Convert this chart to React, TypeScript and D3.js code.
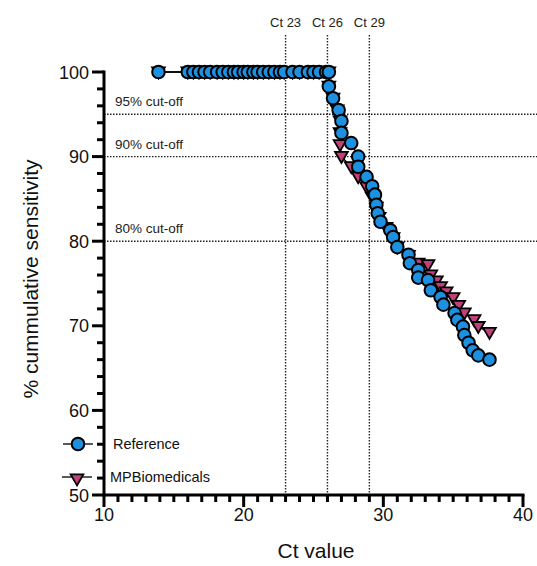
import React from "react";
import * as d3 from "d3";

const refCt = [13.9, 16.0, 16.4, 16.8, 17.2, 17.6, 18.1, 18.5, 18.9, 19.3, 19.6, 20.0, 20.3, 20.7, 21.0, 21.4, 21.8, 22.2, 22.6, 22.9, 23.5, 24.0, 24.6, 25.0, 25.4, 25.9, 26.1,
  26.1, 26.4, 26.8, 27.0, 27.0, 27.7, 28.2, 28.2, 28.8, 29.2, 29.4, 29.5, 29.6, 29.8, 30.5, 30.7, 31.0, 31.8, 31.9, 32.5, 32.5, 33.2, 33.4, 34.1, 34.3, 35.1, 35.3, 35.7, 35.8, 36.1, 36.4, 36.8, 37.6];
const refSens = [100, 100, 100, 100, 100, 100, 100, 100, 100, 100, 100, 100, 100, 100, 100, 100, 100, 100, 100, 100, 100, 100, 100, 100, 100, 100, 100,
  98.3, 96.9, 95.5, 94.2, 92.8, 91.6, 90.0, 88.8, 87.6, 86.5, 85.5, 84.3, 83.3, 82.3, 81.3, 80.5, 79.3, 78.4, 77.4, 76.6, 75.7, 75.4, 74.2, 73.4, 72.5, 71.5, 70.7, 69.9, 68.9, 68.0, 67.1, 66.5, 66.0];

const mpCt = [13.9, 16.0, 16.4, 16.8, 17.2, 17.6, 18.1, 18.5, 18.9, 19.3, 19.6, 20.0, 20.3, 20.7, 21.0, 21.4, 21.8, 22.2, 22.6, 22.9, 23.5, 24.0, 24.6, 25.0, 25.4, 25.9, 26.1,
  26.1, 26.4, 26.7, 26.9, 26.9, 26.9, 27.0, 27.7, 28.2, 28.8, 29.2, 29.5, 29.7, 30.2, 30.7, 31.0, 31.8, 32.5, 33.2, 33.4, 33.8, 34.1, 34.5, 35.0, 35.4, 35.8, 36.5, 36.8, 37.6];
const mpSens = [100, 100, 100, 100, 100, 100, 100, 100, 100, 100, 100, 100, 100, 100, 100, 100, 100, 100, 100, 100, 100, 100, 100, 100, 100, 100, 100,
  98.3, 96.9, 95.5, 94.2, 92.8, 91.4, 90.0, 88.8, 87.6, 86.4, 85.2, 84.0, 82.8, 81.6, 80.4, 79.3, 78.3, 77.4, 77.2, 76.0, 75.3, 74.6, 74.0, 73.3, 72.4, 71.5, 70.7, 69.9, 69.2];

const cutoffs = [95, 90, 80];
const cutoffLabels = ["95% cut-off", "90% cut-off", "80% cut-off"];
const ctLines = [23, 26, 29];
const ctLabels = ["Ct 23", "Ct 26", "Ct 29"];
const xTicks = [10, 20, 30, 40];
const yTicks = [50, 60, 70, 80, 90, 100];

export default function App() {
  const W = 537, H = 566;
  const x = d3.scaleLinear().domain([10, 40]).range([104, 523]);
  const y = d3.scaleLinear().domain([50, 100]).range([495, 72]);
  const font = "Liberation Sans, Arial, sans-serif";
  const ref = refCt.map((c, i) => [c, refSens[i]] as [number, number]);
  const mp = mpCt.map((c, i) => [c, mpSens[i]] as [number, number]);
  const line = d3.line<[number, number]>().x(d => x(d[0])).y(d => y(d[1]));
  const tri = d3.symbol().type(d3.symbolTriangle).size(70)() as string;
  const xMinor = d3.range(10, 41, 1);
  const yMinor = d3.range(50, 101, 2);
  const blue = "#1e90e0";
  const pink = "#c0407a";
  return (
    <svg width={W} height={H} style={{ position: "absolute", left: 0, top: 0, background: "#fff" }}>
      {cutoffs.map((c, i) => (
        <g key={"c" + i}>
          <line x1={x(10)} x2={W} y1={y(c)} y2={y(c)} stroke="#222" strokeWidth={1.4} strokeDasharray="1.5,1.5" />
          <text x={115} y={y(c) - 8} fontFamily={font} fontSize={13.5} fill="#222">{cutoffLabels[i]}</text>
        </g>
      ))}
      {ctLines.map((c, i) => (
        <g key={"v" + i}>
          <line x1={x(c)} x2={x(c)} y1={35} y2={y(50)} stroke="#222" strokeWidth={1.4} strokeDasharray="1.5,1.5" />
          <text x={x(c)} y={27} textAnchor="middle" fontFamily={font} fontSize={13} fill="#222">{ctLabels[i]}</text>
        </g>
      ))}
      <line x1={x(10)} x2={x(10)} y1={y(100) - 1.5} y2={y(50) + 1.5} stroke="#000" strokeWidth={3} />
      <line x1={x(10) - 1.5} x2={x(40) + 1.5} y1={y(50)} y2={y(50)} stroke="#000" strokeWidth={3} />
      {yMinor.map(v => (
        <line key={"ym" + v} x1={x(10) - (v % 10 === 0 ? 12 : 7)} x2={x(10)} y1={y(v)} y2={y(v)} stroke="#000" strokeWidth={3} />
      ))}
      {xMinor.map(v => (
        <line key={"xm" + v} x1={x(v)} x2={x(v)} y1={y(50)} y2={y(50) + (v % 10 === 0 ? 12 : 7)} stroke="#000" strokeWidth={3} />
      ))}
      {yTicks.map(v => (
        <text key={"yt" + v} x={x(10) - 15} y={y(v) + 6.5} textAnchor="end" fontFamily={font} fontSize={18} fill="#111">{v}</text>
      ))}
      {xTicks.map(v => (
        <text key={"xt" + v} x={x(v)} y={y(50) + 26} textAnchor="middle" fontFamily={font} fontSize={18} fill="#111">{v}</text>
      ))}
      <text x={316} y={558} textAnchor="middle" fontFamily={font} fontSize={21} fill="#111">Ct value</text>
      <text transform={`translate(38,279) rotate(-90)`} textAnchor="middle" fontFamily={font} fontSize={21} fill="#111">% cummulative sensitivity</text>
      <path d={line(mp) || ""} fill="none" stroke="#000" strokeWidth={1.3} />
      {mp.map((d, i) => (
        <path key={"m" + i} d={tri} transform={`translate(${x(d[0])},${y(d[1]) - 1}) rotate(180)`} fill={pink} stroke="#000" strokeWidth={1.8} />
      ))}
      <path d={line(ref) || ""} fill="none" stroke="#000" strokeWidth={1.3} />
      {ref.map((d, i) => (
        <circle key={"r" + i} cx={x(d[0])} cy={y(d[1])} r={6.3} fill={blue} stroke="#000" strokeWidth={2} />
      ))}
      <line x1={63} x2={93} y1={444} y2={444} stroke="#000" strokeWidth={1.3} />
      <circle cx={78} cy={444} r={6.3} fill={blue} stroke="#000" strokeWidth={2} />
      <text x={113} y={449} fontFamily={font} fontSize={14.5} fill="#111">Reference</text>
      <line x1={62} x2={92} y1={477} y2={477} stroke="#000" strokeWidth={1.3} />
      <path d={tri} transform={`translate(77,478) rotate(180)`} fill={pink} stroke="#000" strokeWidth={1.8} />
      <text x={110} y={482} fontFamily={font} fontSize={14.5} fill="#111">MPBiomedicals</text>
    </svg>
  );
}
